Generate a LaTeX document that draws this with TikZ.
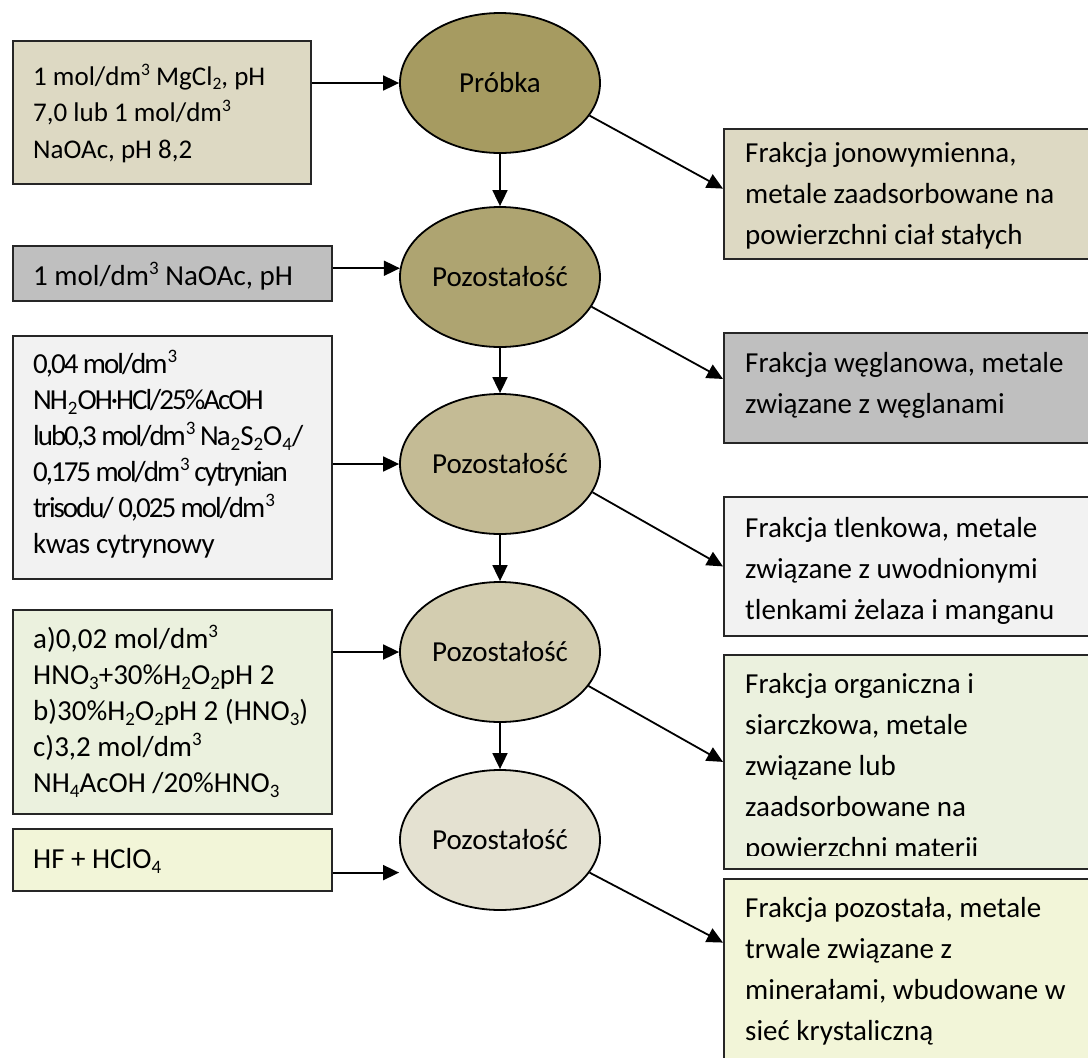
\documentclass[tikz,border=0pt]{standalone}
\usepackage{fontspec}
\setmainfont{Carlito}
\newfontfamily\condfont[LetterSpace=-7]{Carlito}
\newfontfamily\condlast[LetterSpace=-2]{Carlito}
\usetikzlibrary{shapes.geometric,arrows.meta,calc}

% raised / lowered small figures for units and formulas
\newcommand\supx[1]{\raisebox{11pt}{\fontsize{19}{19}\selectfont #1}}
\newcommand\subx[1]{\raisebox{-5pt}{\fontsize{19}{19}\selectfont #1}}
\newcommand\supy[1]{\raisebox{10pt}{\fontsize{17.5}{17.5}\selectfont #1}}
\newcommand\suby[1]{\raisebox{-4.5pt}{\fontsize{17.5}{17.5}\selectfont #1}}

\definecolor{tanA}{HTML}{DDD9C3}
\definecolor{greyB}{HTML}{BFBFBF}
\definecolor{greyC}{HTML}{F2F2F2}
\definecolor{greenD}{HTML}{EBF1DE}
\definecolor{yellowE}{HTML}{F2F5D8}
\definecolor{ovA}{HTML}{A69B61}
\definecolor{ovB}{HTML}{AEA471}
\definecolor{ovC}{HTML}{C4BB95}
\definecolor{ovD}{HTML}{D3CDB0}
\definecolor{ovE}{HTML}{E4E1D1}

\begin{document}
\begin{tikzpicture}[x=1pt,y=-1pt,
  lbox/.style={draw=black!85, line width=1.8pt, rectangle, anchor=north west, inner sep=0pt},
  oval/.style={ellipse, draw=black, line width=1.8pt, minimum width=200pt,
               minimum height=140pt, inner sep=0pt, font=\fontsize{29}{36}\selectfont},
  ltext/.style={anchor=base west, inner sep=0pt, text width=300pt, align=flush left,
                font=\fontsize{29}{36}\selectfont},
  rtext/.style={anchor=base west, inner sep=0pt, text width=340pt, align=flush left,
                font=\fontsize{29}{41}\selectfont},
  arr/.style={-{Triangle[length=16pt,width=15pt]}, line width=1.8pt},
]
\clip (0,0) rectangle (1088,1058);
\fill[white] (0,0) rectangle (1088,1058);

% reagent boxes (left column)
\node[lbox, fill=tanA,    minimum width=298pt, minimum height=143pt] (l1) at (12,40)  {};
\node[lbox, fill=greyB,   minimum width=319pt, minimum height=55pt]  (l2) at (12,245) {};
\node[lbox, fill=greyC,   minimum width=319pt, minimum height=243pt] (l3) at (12,335) {};
\node[lbox, fill=greenD,  minimum width=319pt, minimum height=204pt] (l4) at (12,609) {};
\node[lbox, fill=yellowE, minimum width=319pt, minimum height=62pt]  (l5) at (12,828) {};

% fraction boxes (right column)
\node[lbox, fill=tanA,    minimum width=420pt, minimum height=130pt] (r1) at (723,128) {};
\node[lbox, fill=greyB,   minimum width=420pt, minimum height=110pt] (r2) at (723,332) {};
\node[lbox, fill=greyC,   minimum width=420pt, minimum height=139pt] (r3) at (723,496) {};
\node[lbox, fill=greenD,  minimum width=420pt, minimum height=214pt] (r4) at (723,654) {};
\node[lbox, fill=yellowE, minimum width=420pt, minimum height=200pt] (r5) at (723,878) {};

% texts of the reagent boxes
\node[ltext, font=\fontsize{27}{36.5}\selectfont] (l1t) at (33,85) {1 mol/dm\supy{3} MgCl\suby{2}, pH\\7,0 lub 1 mol/dm\supy{3}\\NaOAc, pH 8,2};
\node[ltext] (l2t) at (33,285) {1 mol/dm\supx{3} NaOAc, pH};
\node[ltext] (l3t) at (33,373) {\condfont 0,04 mol/dm\supx{3}\\NH\subx{2}OH·HCl/25\%AcOH\\lub0,3 mol/dm\supx{3} Na\subx{2}S\subx{2}O\subx{4}/\\0,175 mol/dm\supx{3} cytrynian\\trisodu/ 0,025 mol/dm\supx{3}\\\condlast kwas cytrynowy};
\node[ltext] (l4t) at (33,648) {a)0,02 mol/dm\supx{3}\\HNO\subx{3}+30\%H\subx{2}O\subx{2}pH~2\\b)30\%H\subx{2}O\subx{2}pH~2~(HNO\subx{3})\\c)3,2 mol/dm\supx{3}\\NH\subx{4}AcOH /20\%HNO\subx{3}};
\node[ltext] (l5t) at (33,868) {HF + HClO\subx{4}};

% texts of the fraction boxes
\node[rtext] (r1t) at (745,162) {Frakcja jonowymienna,\\metale zaadsorbowane na\\powierzchni ciał stałych};
\node[rtext] (r2t) at (745,372) {Frakcja węglanowa, metale\\związane z węglanami};
\node[rtext] (r3t) at (745,537) {Frakcja tlenkowa, metale\\związane z uwodnionymi\\tlenkami żelaza i manganu};
\begin{scope}
  \clip (723,654) rectangle (1088,855);
  \node[rtext] (r4t) at (745,693) {Frakcja organiczna i\\siarczkowa, metale\\związane lub\\zaadsorbowane na\\powierzchni materii};
\end{scope}
\node[rtext] (r5t) at (745,917) {Frakcja pozostała, metale\\trwale związane z\\minerałami, wbudowane w\\sieć krystaliczną};

% sample and residues
\node[oval, fill=ovA] (e1) at (500,83)  {Próbka};
\node[oval, fill=ovB] (e2) at (500,277) {Pozostałość};
\node[oval, fill=ovC] (e3) at (500,464) {Pozostałość};
\node[oval, fill=ovD] (e4) at (500,652) {Pozostałość};
\node[oval, fill=ovE] (e5) at (500,840) {Pozostałość};

% reagents into each step
\draw[arr] (l1.east |- e1.west) -- (e1.west);
\draw[arr] (l2.east |- e2.175) -- (e2.175);
\draw[arr] (l3.east |- e3.west) -- (e3.west);
\draw[arr] (l4.east |- e4.west) -- (e4.west);
\draw[arr] (l5.east |- e5.200) -- (e5.west |- e5.200);

% residue passed on to the next step
\draw[arr] (e1.south) -- (e2.north);
\draw[arr] (e2.south) -- (e3.north);
\draw[arr] (e3.south) -- (e4.north);
\draw[arr] (e4.south) -- (e5.north);

% fractions released at each step
\draw[arr] (e1.-20) -- ($(r1.north west)!0.46!(r1.south west)$);
\draw[arr] (e2.-18) -- ($(r2.north west)!0.42!(r2.south west)$);
\draw[arr] (e3.-17) -- (r3.west);
\draw[arr] (e4.-21) -- (r4.west);
\draw[arr] (e5.-20) -- ($(r5.north west)!0.32!(r5.south west)$);
\end{tikzpicture}
\end{document}
